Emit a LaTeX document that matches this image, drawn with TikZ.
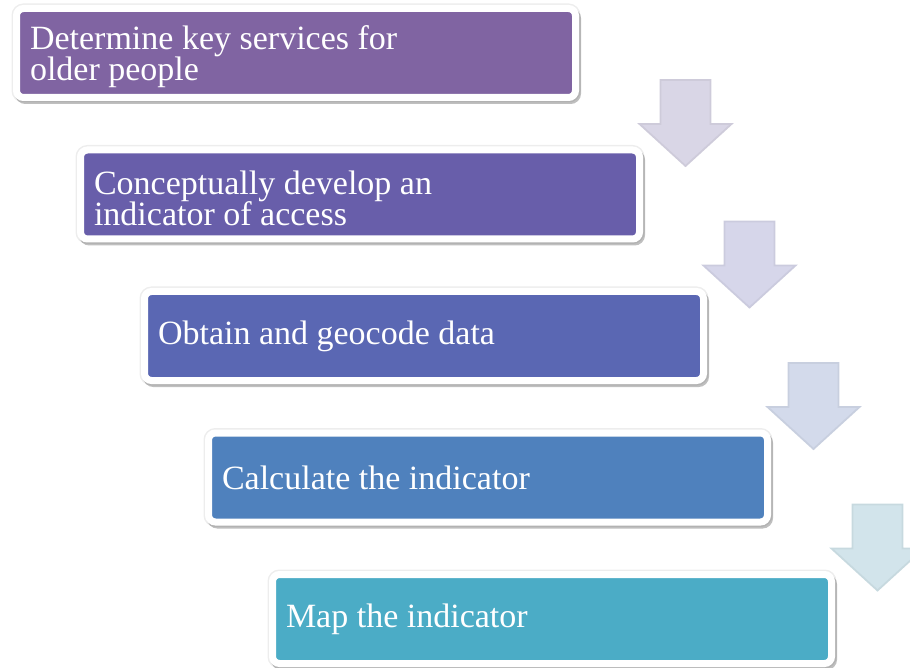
\documentclass[tikz,border=0pt]{standalone}
\usepackage{fontspec}
\setmainfont{Liberation Serif}
\usetikzlibrary{positioning, calc}

\definecolor{stepA}{HTML}{8064A2}
\definecolor{stepB}{HTML}{685EAA}
\definecolor{stepC}{HTML}{5A67B3}
\definecolor{stepD}{HTML}{4F81BD}
\definecolor{stepE}{HTML}{4BACC6}
\definecolor{arrA}{HTML}{D9D6E6}
\definecolor{arrB}{HTML}{D6D6EA}
\definecolor{arrC}{HTML}{D3DAEB}
\definecolor{arrD}{HTML}{D2E4EB}

\begin{document}
\begin{tikzpicture}[
 x=0.5pt, y=-0.5pt,
 stepbox/.style={draw=white, line width=3.5pt, rounded corners=3.5pt,
   minimum width=279.5pt, minimum height=44.5pt, text width=266pt,
   inner xsep=6.75pt, align=left, text=white,
   font=\fontsize{17}{15.5}\selectfont,
   execute at begin node={\spaceskip=0.25em\lineskiplimit=-20pt\relax},
   preaction={draw=black, draw opacity=0.07, line width=5pt},
   preaction={draw=black, draw opacity=0.25, line width=3.5pt,
     transform canvas={xshift=1pt, yshift=-1.5pt}}},
 twoline/.style={execute at begin node={\rule{0pt}{16pt}}},
 downarrow/.pic={\path[pic actions] (-25,0) -- (25,0) -- (25,44) -- (46,44)
   -- (0,86) -- (-46,44) -- (-25,44) -- cycle;},
 arrow/.style={line width=0.9pt, line join=miter}
 ]

  \useasboundingbox (0,0) rectangle (910,668);
  \clip (0,0) rectangle (910,668);

  % Steps
  \node[stepbox, twoline, fill=stepA] (determine) at (296,53) {Determine key services for\\older people};
  \node[stepbox, twoline, fill=stepB] (develop) at ($(determine)+(64,141.5)$) {Conceptually develop an\\indicator of access};
  \node[stepbox, fill=stepC] (obtain) at ($(develop)+(64,141.5)$) {Obtain and geocode data};
  \node[stepbox, fill=stepD] (calculate) at ($(obtain)+(64,141.5)$) {Calculate the indicator};
  \node[stepbox, fill=stepE] (map) at ($(calculate)+(64,141.5)$) {Map the indicator};

  % Block arrows between steps
  \pic[arrow, fill=arrA, draw=arrA!95!black] at ($(determine.east)+(106.5,27)$) {downarrow};
  \pic[arrow, fill=arrB, draw=arrB!95!black] at ($(develop.east)+(106.5,27)$) {downarrow};
  \pic[arrow, fill=arrC, draw=arrC!95!black] at ($(obtain.east)+(106.5,27)$) {downarrow};
  \pic[arrow, fill=arrD, draw=arrD!95!black] at ($(calculate.east)+(106.5,27)$) {downarrow};

\end{tikzpicture}
\end{document}
